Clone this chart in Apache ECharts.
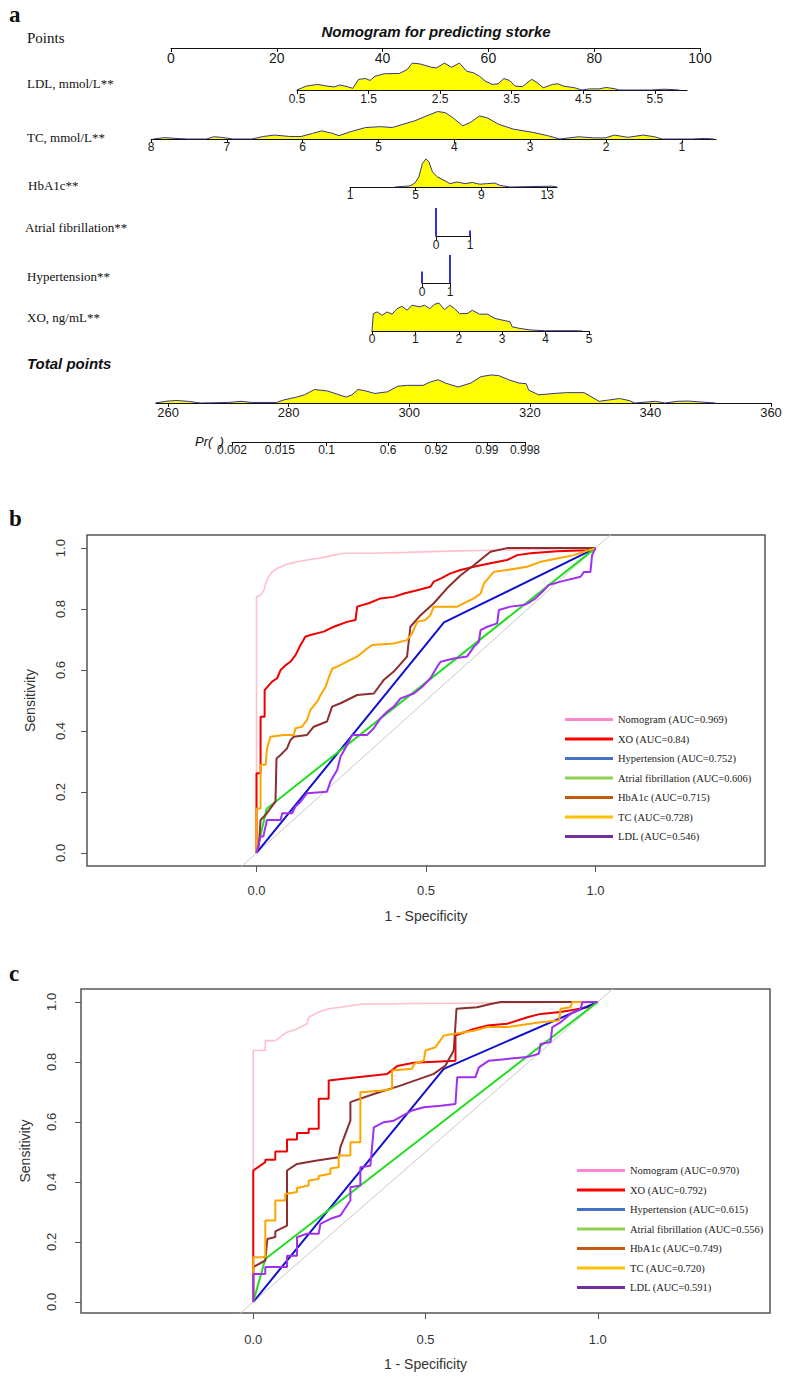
<!DOCTYPE html>
<html><head><meta charset="utf-8">
<script src="https://cdn.jsdelivr.net/npm/echarts@6/dist/echarts.min.js"></script>
<style>html,body{margin:0;padding:0;background:#fff}#chart{width:790px;height:1378px}</style>
</head><body><div id="chart"></div>
<script>
// ================= DATA =================
// Nomogram tick labels
const pointsTicks = [0, 20, 40, 60, 80, 100];
const ldlTicks = [0.5, 1.5, 2.5, 3.5, 4.5, 5.5];
const tcTicks = [8, 7, 6, 5, 4, 3, 2, 1];
const hba1cTicks = [1, 5, 9, 13];
const afTicks = [0, 1];
const htnTicks = [0, 1];
const xoTicks = [0, 1, 2, 3, 4, 5];
const totalTicks = [260, 280, 300, 320, 340, 360];
const prTicks = [0.002, 0.015, 0.1, 0.6, 0.92, 0.99, 0.998];

// Nomogram row names
const rowNames = ['LDL, mmol/L**', 'TC, mmol/L**', 'HbA1c**', 'Atrial fibrillation**', 'Hypertension**', 'XO, ng/mL**'];

// Density outlines: [value, relative density]
const ldlDensity = [[0.5,0],[0.63,0.14],[0.79,0.2],[0.92,0.14],[1.02,0.11],[1.1,0.18],[1.2,0.12],[1.28,0.06],[1.36,0.38],[1.46,0.41],[1.52,0.34],[1.59,0.49],[1.72,0.58],[1.93,0.59],[2.04,0.73],[2.11,0.96],[2.22,0.93],[2.38,0.81],[2.45,0.79],[2.56,0.96],[2.66,0.81],[2.77,0.96],[2.87,0.67],[2.97,0.61],[3.05,0.49],[3.13,0.32],[3.23,0.2],[3.31,0.22],[3.39,0.41],[3.47,0.34],[3.55,0.14],[3.65,0.12],[3.78,0.38],[3.86,0.26],[3.94,0.08],[4.07,0.2],[4.15,0.22],[4.22,0.14],[4.38,0.08],[4.48,0],[4.59,0.04],[4.72,0.04],[4.82,0.09],[4.93,0.05],[5.0,0],[5.45,0],[5.63,0.03],[5.84,0]];
const tcDensity = [[7.97,0],[7.82,0.05],[7.67,0.02],[7.52,0],[7.27,0],[7.17,0.08],[7.07,0.06],[6.92,0],[6.67,0],[6.52,0.09],[6.37,0.14],[6.17,0.09],[6.02,0.09],[5.87,0.2],[5.75,0.29],[5.62,0.21],[5.52,0.12],[5.37,0.26],[5.17,0.41],[4.97,0.44],[4.82,0.41],[4.67,0.53],[4.52,0.65],[4.37,0.82],[4.22,0.98],[4.12,0.94],[4.02,0.76],[3.89,0.47],[3.79,0.59],[3.67,0.82],[3.57,0.76],[3.42,0.53],[3.22,0.35],[2.97,0.24],[2.77,0.12],[2.61,0],[2.36,0.08],[2.16,0.04],[2.01,0.04],[1.89,0.14],[1.71,0.06],[1.51,0.14],[1.36,0.08],[1.26,0],[0.86,0],[0.7,0.02],[0.58,0]];
const hba1cDensity = [[3.74,0],[4.65,0.04],[4.95,0.14],[5.19,0.36],[5.41,0.84],[5.62,1.0],[5.8,0.9],[6.02,0.54],[6.32,0.36],[6.78,0.22],[7.08,0.12],[7.53,0.18],[7.99,0.12],[8.45,0.16],[8.9,0.1],[9.36,0.12],[9.81,0.14],[10.12,0.06],[10.73,0],[13.3,0.03],[13.6,0]];
const afSpikes = [[0, 1.0], [1, 0.2]];
const htnSpikes = [[0, 0.41], [1, 1.0]];
const xoDensity = [[0,0],[0.03,0.62],[0.12,0.68],[0.23,0.56],[0.35,0.68],[0.46,0.6],[0.58,0.8],[0.69,0.88],[0.81,0.74],[0.92,0.92],[1.1,0.86],[1.21,0.92],[1.33,0.8],[1.44,0.95],[1.54,1.0],[1.67,0.76],[1.79,0.92],[1.9,0.8],[2.02,0.62],[2.19,0.62],[2.31,0.74],[2.48,0.6],[2.66,0.6],[2.83,0.45],[3.0,0.39],[3.18,0.33],[3.23,0.15],[3.41,0.09],[3.64,0.04],[3.98,0.01],[4.68,0.01],[4.85,0]];
const totalDensity = [[257.9,0],[259.6,0.06],[261.3,0.09],[263.3,0.06],[265.4,0],[270,0.02],[272.1,0.06],[273.8,0.02],[278,0.02],[279.2,0.11],[281.3,0.21],[282.6,0.29],[284.3,0.48],[286.4,0.43],[288,0.32],[289.5,0.21],[290.5,0.29],[291.5,0.48],[292.6,0.44],[294.3,0.34],[296.4,0.4],[298.1,0.6],[299.7,0.63],[302.3,0.63],[303.5,0.75],[304.8,0.83],[306,0.71],[308.1,0.57],[310.2,0.71],[311.9,0.94],[313.6,1.0],[314.8,0.98],[316.5,0.83],[318.2,0.71],[319.4,0.69],[319.8,0.46],[321.5,0.29],[324,0.34],[326.1,0.37],[329,0.37],[330.3,0.21],[331.5,0.06],[333.2,0.11],[334.9,0.16],[336.6,0.08],[337.4,0],[340.8,0.06],[342.4,0],[344.5,0.06],[346.2,0.07],[348.7,0.03],[350.8,0]];

// ROC panel b (training) : [1 - specificity, sensitivity]
const rocNamesB = ['Nomogram (AUC=0.969)', 'XO (AUC=0.84)', 'Hypertension (AUC=0.752)', 'Atrial fibrillation (AUC=0.606)', 'HbA1c (AUC=0.715)', 'TC (AUC=0.728)', 'LDL (AUC=0.546)'];
const nomoB = [[0,0],[0,0.84],[0.012,0.846],[0.022,0.862],[0.027,0.884],[0.036,0.906],[0.046,0.922],[0.061,0.933],[0.081,0.944],[0.1,0.95],[0.12,0.955],[0.149,0.961],[0.179,0.966],[0.208,0.972],[0.228,0.977],[0.258,0.983],[0.346,0.983],[0.444,0.986],[0.562,0.99],[0.69,0.993],[1,1]];
const xoB = [[0,0],[0,0.261],[0.012,0.261],[0.012,0.447],[0.024,0.447],[0.024,0.534],[0.046,0.562],[0.061,0.573],[0.071,0.6],[0.086,0.616],[0.1,0.627],[0.115,0.649],[0.13,0.682],[0.144,0.709],[0.159,0.715],[0.198,0.726],[0.228,0.742],[0.267,0.758],[0.292,0.764],[0.297,0.808],[0.331,0.819],[0.366,0.835],[0.405,0.84],[0.435,0.851],[0.474,0.862],[0.513,0.873],[0.523,0.89],[0.543,0.9],[0.572,0.917],[0.602,0.928],[0.641,0.939],[0.69,0.95],[0.739,0.961],[0.769,0.977],[0.808,0.983],[0.887,0.99],[0.975,0.993],[1,1]];
const htnB = [[0,0],[0.553,0.756],[1,1]];
const afB = [[0,0],[0.03,0.145],[1,1]];
const hba1cB = [[0,0],[0.007,0.026],[0.012,0.108],[0.027,0.125],[0.041,0.146],[0.056,0.168],[0.059,0.31],[0.071,0.321],[0.09,0.343],[0.1,0.37],[0.11,0.381],[0.149,0.387],[0.169,0.414],[0.208,0.431],[0.223,0.48],[0.248,0.491],[0.297,0.518],[0.346,0.523],[0.375,0.567],[0.405,0.595],[0.444,0.644],[0.454,0.742],[0.484,0.78],[0.523,0.819],[0.562,0.868],[0.602,0.911],[0.641,0.944],[0.69,0.988],[0.739,1.0],[1,1]];
const tcB = [[0,0],[0,0.146],[0.012,0.146],[0.012,0.289],[0.027,0.289],[0.031,0.343],[0.041,0.381],[0.081,0.387],[0.11,0.387],[0.115,0.409],[0.134,0.414],[0.149,0.436],[0.159,0.469],[0.179,0.496],[0.189,0.518],[0.204,0.545],[0.214,0.578],[0.224,0.605],[0.238,0.611],[0.277,0.633],[0.297,0.644],[0.321,0.666],[0.341,0.682],[0.405,0.687],[0.444,0.698],[0.459,0.72],[0.474,0.758],[0.498,0.764],[0.513,0.78],[0.523,0.808],[0.592,0.808],[0.611,0.819],[0.641,0.835],[0.661,0.851],[0.671,0.884],[0.7,0.922],[0.739,0.928],[0.798,0.939],[0.838,0.955],[0.887,0.966],[0.936,0.977],[0.966,0.988],[1,1]];
const ldlB = [[0,0],[0.012,0.054],[0.02,0.054],[0.031,0.108],[0.071,0.108],[0.076,0.13],[0.105,0.13],[0.115,0.152],[0.13,0.168],[0.149,0.196],[0.208,0.201],[0.218,0.234],[0.238,0.272],[0.248,0.316],[0.262,0.343],[0.277,0.376],[0.282,0.387],[0.326,0.387],[0.346,0.409],[0.366,0.442],[0.385,0.463],[0.405,0.48],[0.425,0.507],[0.464,0.523],[0.489,0.545],[0.513,0.573],[0.533,0.611],[0.543,0.627],[0.582,0.638],[0.621,0.644],[0.641,0.676],[0.656,0.693],[0.661,0.731],[0.681,0.742],[0.71,0.753],[0.715,0.797],[0.749,0.808],[0.789,0.813],[0.808,0.824],[0.823,0.835],[0.848,0.862],[0.862,0.879],[0.897,0.89],[0.956,0.906],[0.966,0.922],[0.985,0.922],[0.99,0.977],[1,1]];

// ROC panel c (validation)
const rocNamesC = ['Nomogram (AUC=0.970)', 'XO (AUC=0.792)', 'Hypertension (AUC=0.615)', 'Atrial fibrillation (AUC=0.556)', 'HbA1c (AUC=0.749)', 'TC (AUC=0.720)', 'LDL (AUC=0.591)'];
const nomoC = [[0,0],[0,0.838],[0.035,0.838],[0.035,0.871],[0.064,0.871],[0.098,0.899],[0.127,0.91],[0.156,0.927],[0.161,0.949],[0.19,0.966],[0.219,0.977],[0.253,0.982],[0.316,0.993],[1,1]];
const xoC = [[0,0],[0,0.438],[0.035,0.466],[0.035,0.474],[0.064,0.474],[0.064,0.501],[0.098,0.501],[0.098,0.541],[0.127,0.541],[0.127,0.563],[0.161,0.563],[0.161,0.577],[0.19,0.577],[0.19,0.677],[0.219,0.677],[0.219,0.738],[0.282,0.746],[0.389,0.76],[0.418,0.786],[0.466,0.797],[0.587,0.804],[0.587,0.888],[0.64,0.91],[0.679,0.921],[0.737,0.927],[0.796,0.949],[0.834,0.96],[0.892,0.966],[0.931,0.974],[0.97,0.982],[1,1]];
const htnC = [[0,0],[0.553,0.777],[1,1]];
const afC = [[0,0],[0.035,0.143],[1,1]];
const hba1cC = [[0,0],[0,0.116],[0.035,0.138],[0.041,0.21],[0.064,0.216],[0.064,0.235],[0.098,0.254],[0.098,0.438],[0.127,0.46],[0.185,0.471],[0.248,0.482],[0.253,0.516],[0.282,0.604],[0.282,0.666],[0.35,0.693],[0.427,0.721],[0.524,0.76],[0.558,0.788],[0.582,0.838],[0.59,0.977],[0.65,0.982],[0.689,0.993],[0.718,1.0],[1,1]];
const tcC = [[0,0],[0,0.149],[0.035,0.149],[0.035,0.271],[0.064,0.271],[0.064,0.338],[0.093,0.338],[0.093,0.36],[0.127,0.366],[0.127,0.38],[0.161,0.388],[0.161,0.405],[0.19,0.41],[0.19,0.42],[0.224,0.427],[0.224,0.445],[0.248,0.449],[0.248,0.488],[0.282,0.488],[0.282,0.532],[0.311,0.532],[0.311,0.699],[0.369,0.704],[0.403,0.71],[0.403,0.771],[0.461,0.777],[0.466,0.793],[0.495,0.804],[0.5,0.838],[0.529,0.849],[0.553,0.888],[0.582,0.893],[0.64,0.904],[0.679,0.916],[0.737,0.916],[0.834,0.932],[0.888,0.938],[0.892,0.977],[0.921,0.982],[0.926,1.0],[0.951,1.0],[1,1]];
const ldlC = [[0,0],[0,0.093],[0.035,0.093],[0.035,0.116],[0.098,0.116],[0.098,0.154],[0.127,0.154],[0.127,0.216],[0.156,0.227],[0.19,0.227],[0.195,0.26],[0.224,0.277],[0.253,0.288],[0.282,0.338],[0.282,0.382],[0.311,0.388],[0.311,0.449],[0.34,0.454],[0.35,0.582],[0.379,0.599],[0.408,0.604],[0.461,0.638],[0.495,0.649],[0.544,0.654],[0.587,0.66],[0.592,0.749],[0.645,0.749],[0.655,0.782],[0.684,0.804],[0.737,0.81],[0.795,0.816],[0.829,0.827],[0.834,0.86],[0.863,0.866],[0.868,0.916],[0.892,0.932],[0.921,0.96],[0.951,0.977],[0.955,0.999],[1,1]];

const rocTicksX = [0, 0.5, 1];
const rocTicksY = [0, 0.2, 0.4, 0.6, 0.8, 1];

// ================= STYLE / LAYOUT =================
const SERIF = '"Liberation Serif","Times New Roman",serif';
const SANS = '"Liberation Sans",Arial,sans-serif';
const lineColors = ['#ffc0cb', '#ee0000', '#1010d0', '#22dd22', '#8b2f2f', '#ffa500', '#a030f0'];
const legendColors = ['#ff88cc', '#ff0000', '#4472c4', '#92d050', '#c55a11', '#ffc000', '#7030a0'];
const densLine = '#35358a', densFill = '#ffff00';
const logit = p => Math.log(p / (1 - p));

const grids = [], xAxes = [], yAxes = [], series = [];

function nomoRow(cfg) {
  const gi = grids.length;
  grids.push({left: cfg.left, top: cfg.axisY - 30, width: cfg.width, height: 30, outerBoundsMode: 'none', containLabel: false});
  xAxes.push({
    gridIndex: gi, type: 'value', min: cfg.min, max: cfg.max, inverse: !!cfg.inverse,
    axisLine: {show: true, onZero: false, lineStyle: {color: '#111', width: 1}},
    axisTick: {show: true, customValues: cfg.ticks, length: 4, lineStyle: {color: '#111', width: 1}},
    axisLabel: {show: true, customValues: cfg.ticks, margin: cfg.margin, fontSize: cfg.fontSize, fontFamily: SANS, color: '#1a1a1a', formatter: cfg.fmt},
    splitLine: {show: false}
  });
  yAxes.push({gridIndex: gi, type: 'value', min: 0, max: 1.07, show: false});
  if (cfg.density) {
    series.push({type: 'line', xAxisIndex: gi, yAxisIndex: gi, data: cfg.density, symbol: 'none', silent: true,
      lineStyle: {color: densLine, width: 1}, areaStyle: {color: densFill, opacity: 1}, z: 1});
  }
  if (cfg.spikes) {
    series.push({type: 'bar', xAxisIndex: gi, yAxisIndex: gi, data: cfg.spikes, barWidth: 1.6, clip: false, silent: true,
      itemStyle: {color: '#0000cc'}});
  }
}

nomoRow({left: 171, width: 529, axisY: 48, min: 0, max: 100, ticks: pointsTicks, fontSize: 14, margin: 3, fmt: v => String(v)});
nomoRow({left: 297, width: 390, axisY: 90, min: 0.5, max: 5.95, ticks: ldlTicks, fontSize: 12, margin: 3, fmt: v => v.toFixed(1), density: ldlDensity});
nomoRow({left: 151, width: 565, axisY: 139, min: 0.55, max: 8, inverse: true, ticks: tcTicks, fontSize: 12, margin: 2, fmt: v => String(v), density: tcDensity});
nomoRow({left: 350, width: 207, axisY: 187, min: 1, max: 13.6, ticks: hba1cTicks, fontSize: 12, margin: 2, fmt: v => String(v), density: hba1cDensity});
nomoRow({left: 436, width: 34, axisY: 236, min: 0, max: 1, ticks: afTicks, fontSize: 12, margin: 3, fmt: v => String(v), spikes: afSpikes});
nomoRow({left: 422, width: 28, axisY: 283, min: 0, max: 1, ticks: htnTicks, fontSize: 12, margin: 3, fmt: v => String(v), spikes: htnSpikes});
nomoRow({left: 372, width: 217, axisY: 331, min: 0, max: 5, ticks: xoTicks, fontSize: 12, margin: 2, fmt: v => String(v), density: xoDensity});
nomoRow({left: 156, width: 615, axisY: 403, min: 258, max: 360, ticks: totalTicks, fontSize: 13, margin: 3, fmt: v => String(v), density: totalDensity});
const prLogits = prTicks.map(logit);
nomoRow({left: 232, width: 293, axisY: 442, min: logit(prTicks[0]), max: logit(prTicks[prTicks.length - 1]), ticks: prLogits, fontSize: 12, margin: 2,
  fmt: v => { let best = prTicks[0], bd = 1e9; prTicks.forEach(p => { const d = Math.abs(logit(p) - v); if (d < bd) { bd = d; best = p; } }); return String(best); }});

// ROC panels
function rocPanel(box, yMin, yMax, names, curves, legendPos, lblMargins) {
  const gi = grids.length;
  grids.push({left: box.left, top: box.top, width: box.width, height: box.height, show: true, borderColor: '#555', borderWidth: 1.5, backgroundColor: 'transparent', outerBoundsMode: 'none', containLabel: false});
  xAxes.push({gridIndex: gi, type: 'value', min: -0.5, max: 1.5, position: 'bottom',
    axisLine: {show: false, onZero: false}, splitLine: {show: false},
    axisTick: {show: true, customValues: rocTicksX, length: 6, lineStyle: {color: '#555'}},
    axisLabel: {customValues: rocTicksX, formatter: v => v.toFixed(1), fontFamily: SANS, fontSize: 13, color: '#333', margin: lblMargins.x},
    name: '1 - Specificity', nameLocation: 'middle', nameGap: lblMargins.xName, nameTextStyle: {fontFamily: SANS, fontSize: 14, color: '#333', verticalAlign: 'top'}});
  yAxes.push({gridIndex: gi, type: 'value', min: yMin, max: yMax, position: 'left',
    axisLine: {show: false, onZero: false}, splitLine: {show: false},
    axisTick: {show: true, customValues: rocTicksY, length: 6, lineStyle: {color: '#555'}},
    axisLabel: {customValues: rocTicksY, rotate: 90, formatter: v => v.toFixed(1), fontFamily: SANS, fontSize: 13, color: '#333', margin: lblMargins.y},
    name: 'Sensitivity', nameLocation: 'middle', nameRotate: 90, nameGap: lblMargins.yName, nameTextStyle: {fontFamily: SANS, fontSize: 14, color: '#333'}});
  // chance diagonal across the whole plotting box
  series.push({type: 'line', xAxisIndex: gi, yAxisIndex: gi, data: [[yMin - 0.1, yMin - 0.1], [yMax + 0.1, yMax + 0.1]], symbol: 'none', silent: true,
    lineStyle: {color: '#c8c8c8', width: 1}, z: 1, clip: true});
  const order = [0, 1, 4, 5, 2, 3, 6];
  order.forEach(i => {
    series.push({name: names[i], type: 'line', xAxisIndex: gi, yAxisIndex: gi, data: curves[i], symbol: 'none', clip: true,
      lineStyle: {color: lineColors[i], width: i === 0 ? 1.6 : 2}, itemStyle: {color: legendColors[i]}, z: 2 + i});
  });
  return {
    orient: 'vertical', left: legendPos.left, top: legendPos.top, itemWidth: 48, itemHeight: 3, itemGap: 6.5, icon: 'rect',
    selectedMode: false, padding: 0,
    textStyle: {fontFamily: SERIF, fontSize: 10.5, color: '#222', lineHeight: 13},
    data: names.map((n, i) => ({name: n, itemStyle: {color: legendColors[i]}}))
  };
}

const legendB = rocPanel({left: 87, top: 535, width: 678, height: 331}, -0.043, 1.043, rocNamesB,
  [nomoB, xoB, htnB, afB, hba1cB, tcB, ldlB], {left: 565, top: 713}, {x: 18, xName: 43, y: 20, yName: 50});
const legendC = rocPanel({left: 81, top: 989, width: 689, height: 324}, -0.037, 1.043, rocNamesC,
  [nomoC, xoC, htnC, afC, hba1cC, tcC, ldlC], {left: 577, top: 1164}, {x: 20, xName: 44, y: 23, yName: 49});

// Text labels
function txt(x, y, text, font, align) {
  return {type: 'text', x: x, y: y, silent: true, style: {text: text, font: font, fill: '#111', align: align || 'left', verticalAlign: 'middle'}};
}
const graphics = [
  txt(9, 14, 'a', 'bold 23px ' + SERIF),
  txt(9, 518, 'b', 'bold 23px ' + SERIF),
  txt(9, 973, 'c', 'bold 23px ' + SERIF),
  txt(436, 31, 'Nomogram for predicting storke', 'italic bold 15px ' + SANS, 'center'),
  txt(27, 38, 'Points', '15px ' + SERIF),
  txt(27, 83, rowNames[0], '13px ' + SERIF),
  txt(27, 137, rowNames[1], '13px ' + SERIF),
  txt(28, 185, rowNames[2], '13px ' + SERIF),
  txt(25, 227, rowNames[3], '13px ' + SERIF),
  txt(27, 276, rowNames[4], '13px ' + SERIF),
  txt(27, 317, rowNames[5], '13px ' + SERIF),
  txt(27, 363, 'Total points', 'italic bold 15px ' + SANS),
  txt(195, 441, 'Pr(  )', 'italic 13px ' + SANS)
];

const chart = echarts.init(document.getElementById('chart'), null, {renderer: 'svg', width: 790, height: 1378});
chart.setOption({
  animation: false,
  backgroundColor: '#fff',
  grid: grids, xAxis: xAxes, yAxis: yAxes, series: series,
  legend: [legendB, legendC],
  graphic: graphics
});
</script></body></html>
